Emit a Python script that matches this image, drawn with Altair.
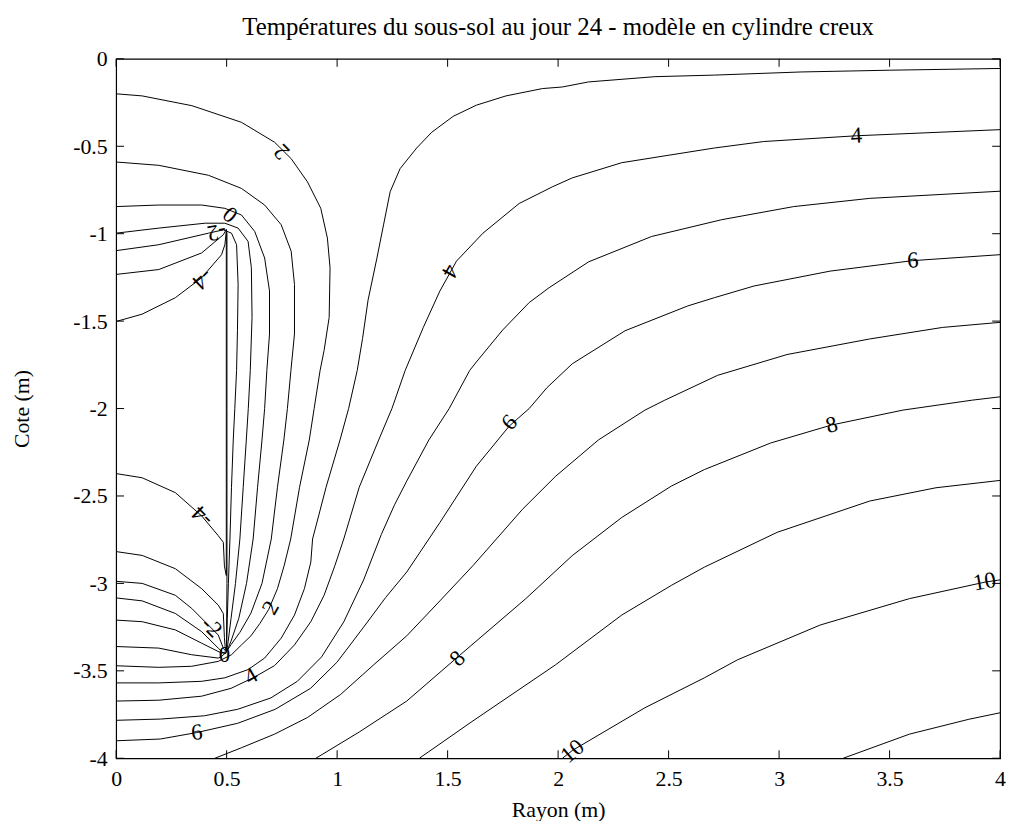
import altair as alt
import pandas as pd

FONT = "Liberation Serif"

x_ticks = [0, 0.5, 1, 1.5, 2, 2.5, 3, 3.5, 4]
y_ticks = [0, -0.5, -1, -1.5, -2, -2.5, -3, -3.5, -4]

# contour polylines (x = rayon, y = cote)
c_u1 = [(0, -0.2), (0.118, -0.212), (0.343, -0.268), (0.567, -0.363), (0.717, -0.477), (0.792, -0.571),
        (0.866, -0.704), (0.926, -0.855), (0.956, -1.025), (0.968, -1.195), (0.964, -1.479), (0.941, -1.668),
        (0.923, -1.782), (0.896, -2.0), (0.874, -2.18), (0.83, -2.45), (0.79, -2.746), (0.76, -2.9),
        (0.73, -3.03), (0.69, -3.15), (0.65, -3.23), (0.61, -3.30), (0.567, -3.352), (0.522, -3.408),
        (0.462, -3.446), (0.342, -3.474), (0.193, -3.48), (0, -3.471)]
c_u2 = [(0, -0.59), (0.193, -0.609), (0.418, -0.666), (0.567, -0.741), (0.672, -0.836), (0.747, -0.949),
        (0.792, -1.1), (0.807, -1.29), (0.807, -1.574), (0.791, -1.782), (0.775, -2.0), (0.759, -2.18),
        (0.73, -2.45), (0.702, -2.746), (0.66, -3.0), (0.61, -3.17), (0.56, -3.28), (0.52, -3.35),
        (0.497, -3.395), (0.475, -3.42), (0.462, -3.427), (0.342, -3.408), (0.193, -3.37), (0, -3.361)]
c_u3 = [(0, -0.845), (0.193, -0.836), (0.387, -0.836), (0.492, -0.855), (0.567, -0.893), (0.627, -0.987),
        (0.672, -1.139), (0.694, -1.328), (0.694, -1.574), (0.682, -1.782), (0.672, -2.0), (0.660, -2.18),
        (0.64, -2.45), (0.62, -2.746), (0.59, -3.0), (0.555, -3.2), (0.52, -3.33), (0.50, -3.39),
        (0.477, -3.399), (0.387, -3.342), (0.268, -3.266), (0.118, -3.219), (0, -3.21)]
c_u4 = [(0, -0.997), (0.193, -0.968), (0.403, -0.94), (0.492, -0.94), (0.552, -0.968), (0.597, -1.044),
        (0.612, -1.195), (0.615, -1.479), (0.607, -1.782), (0.598, -2.0), (0.589, -2.18), (0.575, -2.45),
        (0.56, -2.746), (0.54, -3.0), (0.52, -3.2), (0.505, -3.35), (0.497, -3.40), (0.485, -3.399),
        (0.462, -3.37), (0.387, -3.276), (0.268, -3.172), (0.118, -3.1), (0, -3.083)]
c_u5 = [(0, -1.097), (0.193, -1.063), (0.418, -0.997), (0.485, -0.978), (0.522, -0.997), (0.545, -1.063),
        (0.552, -1.29), (0.549, -1.555), (0.545, -1.782), (0.537, -2.0), (0.530, -2.18), (0.522, -2.45),
        (0.515, -2.746), (0.508, -3.0), (0.503, -3.2), (0.50, -3.37), (0.494, -3.385), (0.485, -3.37),
        (0.462, -3.295), (0.342, -3.143), (0.268, -3.068), (0.118, -3.0), (0, -2.988)]
c_u6 = [(0, -1.233), (0.193, -1.205), (0.387, -1.11), (0.485, -1.006), (0.499, -0.975), (0.5015, -1.0),
        (0.5015, -2.0), (0.5015, -3.0), (0.499, -3.39), (0.493, -3.36), (0.49, -3.31), (0.485, -3.172),
        (0.462, -3.124), (0.387, -3.03), (0.268, -2.916), (0.118, -2.84), (0, -2.818)]
c_u7 = [(0, -1.502), (0.118, -1.46), (0.268, -1.366), (0.387, -1.252), (0.477, -1.12), (0.492, -1.063),
        (0.4985, -0.99), (0.4985, -1.5), (0.4985, -2.5), (0.4985, -2.955), (0.49, -2.90), (0.485, -2.765),
        (0.462, -2.727), (0.387, -2.614), (0.268, -2.481), (0.118, -2.396), (0, -2.372)]
c_l3 = [(4, -0.055), (3.5, -0.065), (3.1, -0.075), (2.707, -0.093), (2.438, -0.102), (2.138, -0.132),
        (2.019, -0.161), (1.929, -0.170), (1.764, -0.212), (1.63, -0.265), (1.525, -0.329), (1.428, -0.42),
        (1.36, -0.51), (1.285, -0.628), (1.24, -0.76), (1.21, -0.95), (1.18, -1.14), (1.14, -1.38),
        (1.115, -1.6), (1.091, -1.782), (1.052, -2.0), (1.013, -2.18), (0.95, -2.45), (0.889, -2.746),
        (0.881, -2.878), (0.852, -3.03), (0.807, -3.181), (0.747, -3.313), (0.672, -3.427), (0.597, -3.493),
        (0.492, -3.54), (0.387, -3.56), (0.193, -3.569), (0, -3.569)]
c_l4 = [(4, -0.405), (3.35, -0.44), (2.93, -0.473), (2.707, -0.51), (2.497, -0.552), (2.288, -0.594),
        (2.064, -0.681), (1.974, -0.732), (1.824, -0.827), (1.66, -0.997), (1.54, -1.157), (1.465, -1.328),
        (1.39, -1.536), (1.308, -1.782), (1.248, -2.0), (1.188, -2.18), (1.10, -2.45), (1.03, -2.746),
        (0.99, -2.898), (0.941, -3.068), (0.881, -3.219), (0.807, -3.352), (0.717, -3.47), (0.62, -3.54),
        (0.52, -3.60), (0.387, -3.645), (0.193, -3.668), (0, -3.673)]
c_l5 = [(4, -0.757), (3.41, -0.798), (3.066, -0.845), (2.74, -0.92), (2.423, -1.016), (2.138, -1.161),
        (1.959, -1.309), (1.869, -1.394), (1.749, -1.551), (1.63, -1.734), (1.60, -1.782), (1.507, -2.0),
        (1.415, -2.18), (1.315, -2.415), (1.26, -2.55), (1.2, -2.72), (1.12, -2.98), (1.03, -3.22),
        (0.93, -3.42), (0.82, -3.56), (0.70, -3.655), (0.55, -3.72), (0.4, -3.757), (0.2, -3.776), (0, -3.783)]
c_l6 = [(4, -1.12), (3.605, -1.154), (3.231, -1.214), (2.887, -1.299), (2.707, -1.366), (2.587, -1.413),
        (2.303, -1.555), (2.064, -1.744), (1.95, -1.88), (1.869, -2.0), (1.779, -2.10), (1.63, -2.33),
        (1.465, -2.652), (1.315, -2.935), (1.22, -3.08), (1.12, -3.25), (1.0, -3.45), (0.88, -3.6),
        (0.72, -3.72), (0.55, -3.8), (0.365, -3.853), (0.2, -3.89), (0, -3.9)]
c_l7 = [(4, -1.507), (3.74, -1.536), (3.41, -1.602), (3.036, -1.691), (2.722, -1.81), (2.483, -1.952),
        (2.393, -2.009), (2.183, -2.179), (1.989, -2.387), (1.839, -2.576), (1.615, -2.898), (1.465, -3.10),
        (1.315, -3.30), (1.166, -3.465), (1.016, -3.635), (0.866, -3.767), (0.717, -3.862), (0.567, -3.94),
        (0.447, -4.0)]
c_l8 = [(4, -1.933), (3.874, -1.952), (3.56, -2.009), (3.238, -2.094), (2.962, -2.197), (2.662, -2.349),
        (2.513, -2.443), (2.288, -2.623), (2.064, -2.841), (1.854, -3.087), (1.54, -3.427), (1.315, -3.673),
        (1.1, -3.85), (0.904, -4.0)]
c_l9 = [(4, -2.411), (3.71, -2.453), (3.41, -2.529), (2.991, -2.708), (2.662, -2.907), (2.513, -3.011),
        (2.288, -3.181), (1.989, -3.465), (1.615, -3.786), (1.372, -4.0)]
c_l10 = [(4, -2.98), (3.934, -2.992), (3.59, -3.087), (3.186, -3.238), (2.812, -3.437), (2.662, -3.54),
         (2.393, -3.711), (2.064, -3.956), (2.02, -4.0)]
c_l11 = [(4, -3.74), (3.859, -3.777), (3.59, -3.862), (3.29, -4.0)]

# contour labels: text, x, y, rotation
lab_text = ["2", "0", "-2", "-4", "4", "4", "6", "6", "8", "8", "10", "10", "-4", "-2", "0", "2", "4", "6"]
lab_x = [0.75, 0.515, 0.455, 0.39, 1.51, 3.35, 3.605, 1.78, 3.238, 1.545, 3.93, 2.065, 0.39, 0.432, 0.49, 0.70, 0.61, 0.365]
lab_y = [-0.53, -0.893, -0.99, -1.26, -1.214, -0.44, -1.154, -2.08, -2.094, -3.43, -2.99, -3.96, -2.615, -3.25, -3.41, -3.14, -3.53, -3.853]
lab_angle = [225, 40, 170, 137, 120, 357, 357, 313, 345, 315, 350, 320, 225, 45, 0, 300, 330, 355]

contours = [("u1", c_u1), ("u2", c_u2), ("u3", c_u3), ("u4", c_u4), ("u5", c_u5), ("u6", c_u6),
            ("u7", c_u7), ("l3", c_l3), ("l4", c_l4), ("l5", c_l5), ("l6", c_l6), ("l7", c_l7),
            ("l8", c_l8), ("l9", c_l9), ("l10", c_l10), ("l11", c_l11)]
rows = []
for name, pts in contours:
    for i, (px, py) in enumerate(pts):
        rows.append({"line": name, "i": i, "x": px, "y": py})
df = pd.DataFrame(rows)
lab_df = pd.DataFrame({"t": lab_text, "x": lab_x, "y": lab_y, "a": lab_angle})
xt_df = pd.DataFrame({"x": x_ticks})
yt_df = pd.DataFrame({"y": y_ticks})

W, H = 891, 705
TL = 8

xs = alt.Scale(domain=[0, 4], nice=False, zero=False)
ys = alt.Scale(domain=[-4, 0], nice=False, zero=False)
xaxis = alt.Axis(values=x_ticks, title="Rayon (m)", labelExpr="'' + datum.value",
                 ticks=False, domain=False, grid=False, labelPadding=10, titlePadding=11,
                 labelFlush=False, labelFont=FONT, labelFontSize=22, labelColor="black",
                 titleFont=FONT, titleFontSize=22, titleFontWeight="normal", titleColor="black")
yaxis = alt.Axis(values=y_ticks, title="Cote (m)", labelExpr="'' + datum.value",
                 ticks=False, domain=False, grid=False, labelPadding=9, titlePadding=40,
                 labelFlush=False, labelFont=FONT, labelFontSize=22, labelColor="black",
                 titleFont=FONT, titleFontSize=22, titleFontWeight="normal", titleColor="black")

lines = alt.Chart(df).mark_line(color="black", strokeWidth=1, clip=True).encode(
    x=alt.X("x:Q", scale=xs, axis=xaxis),
    y=alt.Y("y:Q", scale=ys, axis=yaxis),
    detail="line:N",
    order="i:Q",
)

labels = alt.Chart(lab_df).mark_text(font=FONT, fontSize=23, baseline="middle", align="center",
                                     color="black").encode(
    x=alt.X("x:Q", scale=xs, axis=xaxis),
    y=alt.Y("y:Q", scale=ys, axis=yaxis),
    text="t:N",
    angle=alt.Angle("a:Q", scale=None),
)

xt_bottom = alt.Chart(xt_df).mark_rule(color="black", strokeWidth=1).encode(
    x=alt.X("x:Q", scale=xs, axis=xaxis), y=alt.value(H), y2=alt.value(H - TL))
xt_top = alt.Chart(xt_df).mark_rule(color="black", strokeWidth=1).encode(
    x=alt.X("x:Q", scale=xs, axis=xaxis), y=alt.value(0), y2=alt.value(TL))
yt_left = alt.Chart(yt_df).mark_rule(color="black", strokeWidth=1).encode(
    y=alt.Y("y:Q", scale=ys, axis=yaxis), x=alt.value(0), x2=alt.value(TL))
yt_right = alt.Chart(yt_df).mark_rule(color="black", strokeWidth=1).encode(
    y=alt.Y("y:Q", scale=ys, axis=yaxis), x=alt.value(W), x2=alt.value(W - TL))

chart = alt.layer(lines, labels, xt_bottom, xt_top, yt_left, yt_right).properties(
    width=W, height=H,
    title=alt.TitleParams(text="Températures du sous-sol au jour 24 - modèle en cylindre creux",
                          font=FONT, fontSize=25, fontWeight="normal", offset=8, anchor="middle",
                          color="black"),
    autosize=alt.AutoSizeParams(type="none"),
    padding={"left": 109, "top": 48, "right": 10, "bottom": 60},
).configure(background="white").configure_view(stroke="black", strokeWidth=1.2)

chart.save("out.html", embed_options={"renderer": "svg", "actions": False})
